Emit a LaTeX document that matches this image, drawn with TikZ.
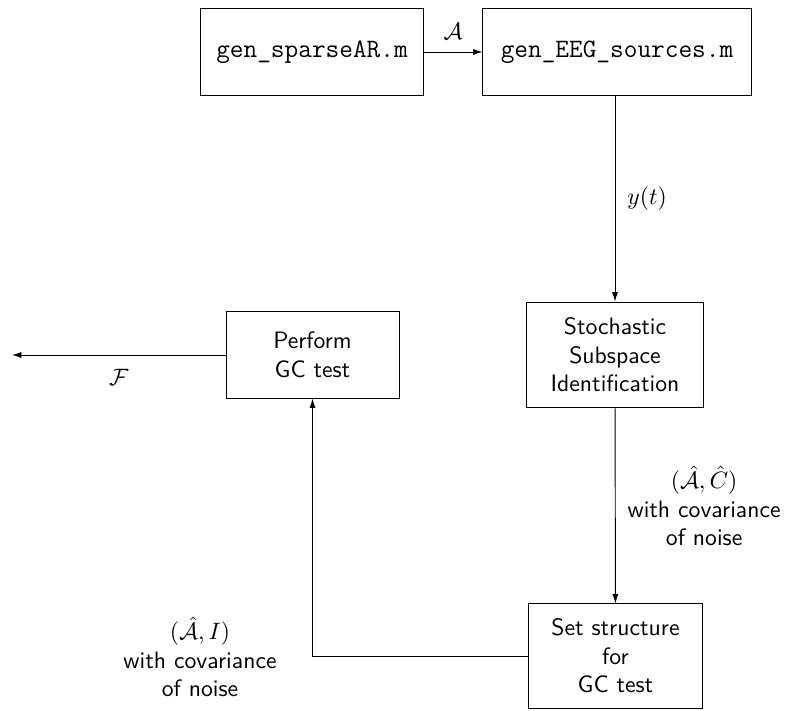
\documentclass[tikz,border=0pt]{standalone}
\usepackage{fontspec}
\usetikzlibrary{arrows.meta}
\begin{document}
\begin{tikzpicture}[x=0.4219pt, y=-0.4219pt,
  >={Latex[length=4pt,width=2.6pt]},
  every node/.style={inner sep=0pt, align=center},
  codebox/.style={draw, line width=0.4pt, font=\fontsize{11.2}{13}\ttfamily, minimum height=37.1pt},
  procbox/.style={draw, line width=0.4pt, font=\sffamily},
  lbl/.style={font=\sffamily},
  conn/.style={line width=0.4pt, ->}]
\useasboundingbox (0,0) rectangle (785,711);

% generation stage
\node[codebox, minimum width=93.7pt] (gen) at (312,52) {gen\_sparseAR.m};
\node[codebox, minimum width=113.1pt] (src) at (617,52) {gen\_EEG\_sources.m};

% identification and testing
\node[procbox, minimum width=74.3pt, minimum height=44.7pt] (ssi) at (615,355)
  {Stochastic\\Subspace\\Identification};
\node[procbox, minimum width=73.8pt, minimum height=43.9pt] (set) at (615.5,656)
  {Set structure\\for\\GC test};
\node[procbox, minimum width=73pt, minimum height=36.3pt] (gc) at (312.5,355)
  {Perform\\GC test};

\coordinate (out) at (12,355);

% connectors
\draw[conn] (gen) -- node[above=5pt] {$\mathcal{A}$} (src);
\draw[conn] (src.south -| ssi.north) -- node[right=5pt] {$y(t)$} (ssi.north);
\draw[conn] (ssi) -- node[right=5pt, lbl] {$(\hat{\mathcal{A}},\hat{C})$\\with covariance\\of noise} (set);
\draw[conn] (set.west) -| (gc.south);
\draw[conn] (gc.west) -- node[below=6pt] {$\mathcal{F}$} (out);

\node[lbl] (lblI) at (200,657) {$(\hat{\mathcal{A}},I)$\\with covariance\\of noise};
\end{tikzpicture}
\end{document}
